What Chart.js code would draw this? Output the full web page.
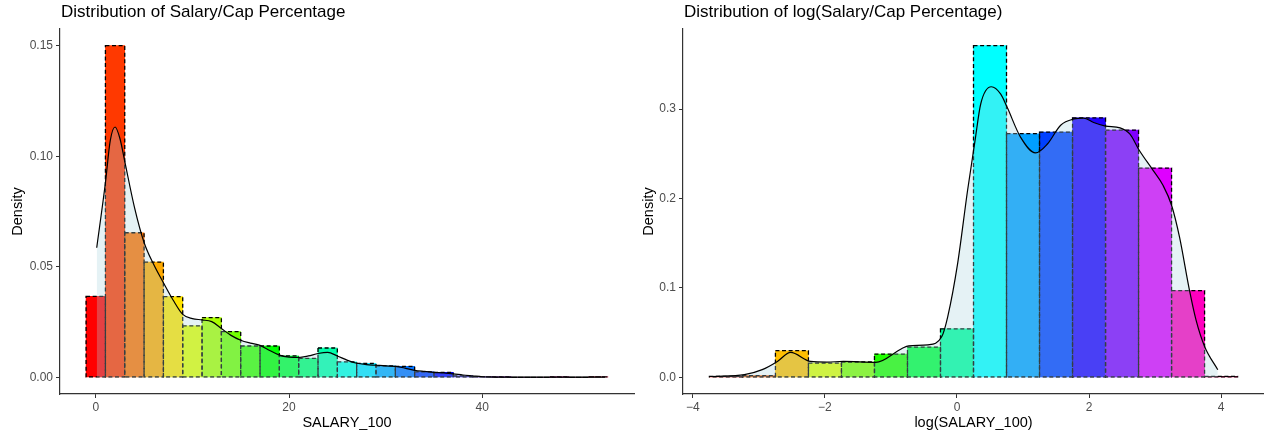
<!DOCTYPE html>
<html>
<head>
<meta charset="utf-8">
<script src="https://cdn.jsdelivr.net/npm/chart.js@4.4.1/dist/chart.umd.min.js"></script>
<style>
  body { margin: 0; background: #fff; }
  #wrap { position: relative; width: 1264px; height: 435px; }
  #left { position: absolute; left: 0; top: 0; }
  #right { position: absolute; left: 640px; top: 0; }
</style>
</head>
<body>
<div id="wrap">
  <canvas id="left" width="640" height="435"></canvas>
  <canvas id="right" width="624" height="435"></canvas>
</div>
<script>
// histogram of SALARY_100, bins of width 2 (centres)
const salaryBins = [0, 2, 4, 6, 8, 10, 12, 14, 16, 18, 20, 22, 24, 26, 28, 30, 32, 34, 36, 38, 40, 42, 44, 46, 48, 50, 52];
const salaryDensity = [0.0366, 0.150, 0.0654, 0.0521, 0.0365, 0.0233, 0.0270, 0.0207, 0.0142, 0.0142, 0.0097, 0.0086, 0.0133, 0.0070, 0.0063, 0.0052, 0.0050, 0.0025, 0.0023, 0.0007, 0.0002, 0.0001, 0, 0, 0.0001, 0, 0.0002];

// kernel density curve
const salaryKdeX = [0.1, 1, 1.5, 2, 2.5, 3, 4, 5, 6, 7, 8, 9, 10, 11, 12, 13, 14, 15, 16, 17, 18, 19, 20, 21, 22, 23, 24, 25, 26, 27, 28, 29, 30, 31, 32, 33, 34, 35, 36, 37, 38, 39, 40, 42, 46, 50, 52.7];
const salaryKdeY = [0.0586, 0.088, 0.107, 0.1132, 0.108, 0.0977, 0.077, 0.061, 0.051, 0.0428, 0.035, 0.0285, 0.0266, 0.026, 0.0252, 0.0221, 0.019, 0.0168, 0.0155, 0.0145, 0.0122, 0.0101, 0.0092, 0.009, 0.0097, 0.0108, 0.0113, 0.0097, 0.0078, 0.0064, 0.0058, 0.0055, 0.0052, 0.005, 0.0042, 0.0032, 0.0027, 0.0023, 0.002, 0.0016, 0.0011, 0.0007, 0.0003, 0.0001, 0.0001, 0.0001, 0.0001];

// histogram of log(SALARY_100), bins of width 0.5 (centres)
const logBins = [-3.5, -3, -2.5, -2, -1.5, -1, -0.5, 0, 0.5, 1, 1.5, 2, 2.5, 3, 3.5, 4];
const logDensity = [0.0012, 0.002, 0.0298, 0.016, 0.0172, 0.026, 0.0339, 0.0543, 0.371, 0.2725, 0.2743, 0.2903, 0.2765, 0.2341, 0.097, 0.0012];

const logKdeX = [-3.7, -3.22, -2.95, -2.72, -2.52, -2.22, -1.97, -1.72, -1.23, -0.84, -0.73, -0.44, -0.23, -0.14, 0.01, 0.16, 0.27, 0.36, 0.52, 0.66, 0.76, 0.96, 1.19, 1.37, 1.57, 1.77, 1.92, 2.07, 2.25, 2.47, 2.62, 2.76, 2.97, 3.12, 3.25, 3.37, 3.52, 3.62, 3.75, 3.95];
const logKdeY = [0.001, 0.003, 0.0086, 0.0178, 0.0279, 0.0178, 0.0171, 0.0178, 0.0167, 0.032, 0.0353, 0.0364, 0.0457, 0.068, 0.1275, 0.209, 0.263, 0.306, 0.325, 0.317, 0.302, 0.269, 0.251, 0.261, 0.282, 0.289, 0.290, 0.285, 0.281, 0.279, 0.272, 0.254, 0.2315, 0.2148, 0.1925, 0.157, 0.0978, 0.0643, 0.0346, 0.0086];

const FONT = '"Liberation Sans", Arial, Helvetica, sans-serif';

// R's rainbow(n)
function rainbow(n) {
    const out = [];
    for (let i = 0; i < n; i++) {
        const h = i / n * 6;
        const k = Math.floor(h), f = h - k;
        const q = Math.round(255 * (1 - f)), t = Math.round(255 * f);
        const rgb = [[255, t, 0], [q, 255, 0], [0, 255, t], [0, q, 255], [t, 0, 255], [255, 0, q]][k];
        out.push('rgb(' + rgb.join(',') + ')');
    }
    return out;
}

// dashed black outline round every histogram bar
const dashedBars = {
    id: 'dashedBars',
    afterDatasetDraw(chart, args) {
        if (args.meta.type !== 'bar') return;
        const ctx = chart.ctx;
        ctx.save();
        ctx.strokeStyle = '#000';
        ctx.lineWidth = 1.3;
        ctx.setLineDash([4, 2.6]);
        args.meta.data.forEach(el => {
            const p = el.getProps(['x', 'y', 'base', 'width'], true);
            ctx.strokeRect(p.x - p.width / 2, p.y, p.width, p.base - p.y);
        });
        ctx.restore();
    }
};

// ggplot-like title, left aligned on the panel
const plotTitle = {
    id: 'plotTitle',
    afterDraw(chart, args, opts) {
        const ctx = chart.ctx;
        ctx.save();
        ctx.font = '17px ' + FONT;
        ctx.fillStyle = '#000';
        ctx.textBaseline = 'alphabetic';
        ctx.fillText(opts.text, chart.chartArea.left + 1, 17);
        ctx.restore();
    }
};

function makeChart(id, cfg) {
    const axisCommon = {
        grid: { display: true, offset: false, drawOnChartArea: false, drawTicks: true, tickLength: 4, tickColor: '#333', tickWidth: 1 },
        border: { display: true, color: '#333', width: 1.2 },
        title: { display: true, color: '#000', font: { family: FONT, size: 14.5 } }
    };
    return new Chart(document.getElementById(id), {
        type: 'bar',
        data: {
            datasets: [{
                type: 'bar',
                data: cfg.bins.map((b, i) => ({ x: b, y: cfg.dens[i] })),
                backgroundColor: rainbow(cfg.bins.length),
                borderWidth: 0,
                barPercentage: 1,
                categoryPercentage: 1,
                order: 2
            }, {
                type: 'line',
                data: cfg.kdeX.map((x, i) => ({ x: x, y: cfg.kdeY[i] })),
                borderColor: '#000',
                borderWidth: 1.2,
                backgroundColor: 'rgba(170,212,222,0.3)',
                fill: 'origin',
                pointRadius: 0,
                cubicInterpolationMode: 'monotone',
                order: 1
            }]
        },
        options: {
            responsive: false,
            animation: false,
            layout: { padding: { top: 29, right: cfg.padRight, left: 0, bottom: 0 } },
            plugins: {
                legend: { display: false },
                tooltip: { enabled: false },
                plotTitle: { text: cfg.title }
            },
            scales: {
                x: {
                    ...axisCommon,
                    type: 'linear',
                    offset: false,
                    min: cfg.xMin, max: cfg.xMax,
                    afterFit: s => { s.height = 41; },
                    ticks: {
                        stepSize: cfg.xStep, includeBounds: false, autoSkip: false, maxRotation: 0,
                        color: '#4d4d4d', padding: 2, font: { family: FONT, size: 12 },
                        callback: v => String(v).replace('-', '\u2212')
                    },
                    title: { ...axisCommon.title, text: cfg.xTitle, padding: { top: 0, bottom: 3 } }
                },
                y: {
                    ...axisCommon,
                    min: cfg.yMin, max: cfg.yMax,
                    afterFit: s => { s.width = cfg.yWidth; },
                    ticks: {
                        stepSize: cfg.yStep, includeBounds: false, autoSkip: false,
                        color: '#4d4d4d', padding: 3, font: { family: FONT, size: 12 },
                        callback: v => v.toFixed(cfg.yDigits)
                    },
                    title: { ...axisCommon.title, text: 'Density', padding: { top: cfg.yTitlePad, bottom: 0 } }
                }
            }
        },
        plugins: [dashedBars, plotTitle]
    });
}

makeChart('left', {
    title: 'Distribution of Salary/Cap Percentage',
    bins: salaryBins, dens: salaryDensity, kdeX: salaryKdeX, kdeY: salaryKdeY,
    xMin: -3.7, xMax: 55.7, xStep: 20, xTitle: 'SALARY_100',
    yMin: -0.0075, yMax: 0.1575, yStep: 0.05, yDigits: 2,
    yWidth: 60, yTitlePad: 9, padRight: 6
});

makeChart('right', {
    title: 'Distribution of log(Salary/Cap Percentage)',
    bins: logBins, dens: logDensity, kdeX: logKdeX, kdeY: logKdeY,
    xMin: -4.15, xMax: 4.65, xStep: 2, xTitle: 'log(SALARY_100)',
    yMin: -0.0186, yMax: 0.3896, yStep: 0.1, yDigits: 1,
    yWidth: 43, yTitlePad: 0, padRight: 0
});
</script>
</body>
</html>
